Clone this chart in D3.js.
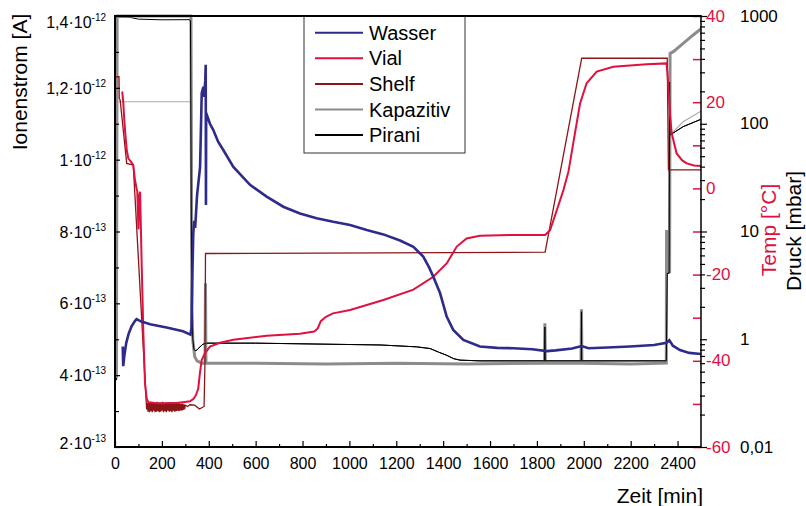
<!DOCTYPE html>
<html><head><meta charset="utf-8">
<script src="https://cdn.jsdelivr.net/npm/d3@7"></script>
<style>body{margin:0;background:#fff}svg{display:block;font-family:"Liberation Sans",Arial,Helvetica,sans-serif}</style>
</head><body><svg id="c" width="806" height="506"></svg>
<script>
// ---------- data ----------
const timeTicks = [0,200,400,600,800,1000,1200,1400,1600,1800,2000,2200,2400];
const timeMinorTicks = [100,300,500,700,900,1100,1300,1500,1700,1900,2100,2300];
// ion current in units of 1e-13 A
const ionTicks = [2,4,6,8,10,12,14];
const ionMinorTicks = [3,5,7,9,11,13];
const tempTicks = [40,30,20,10,0,-10,-20,-30,-40,-50,-60];
const tempLabelTicks = [40,20,0,-20,-40,-60];
const pressureTickValues = [1000,100,10,1,0.1];
const pressureTickLabels = ["1000","100","10","1","0,01"];
const seriesNames = ["Wasser","Vial","Shelf","Kapazitiv","Pirani"];
const seriesColors = ["#2e2b8c","#e0103f","#8c1616","#8c8c8c","#000000"];

// Wasser: [min, ion current 1e-13 A]
const wasser = [[33,4.8],[35,4.25],[40,4.55],[48,4.9],[58,5.15],[70,5.35],[84,5.5],[92,5.56],[110,5.5],[150,5.42],[220,5.33],[290,5.22],[322,5.13],[326,5.3],[330,6.8],[334,7.95],[338,8.3],[342,8.1],[350,9.0],[363,9.8],[370,11.85],[377,12.03],[380,11.75],[385,12.2],[387,12.64],[388,8.74],[389,11.3],[405,11.0],[419,10.83],[440,10.5],[462,10.27],[505,9.8],[576,9.3],[647,8.97],[718,8.69],[789,8.5],[860,8.37],[931,8.27],[1003,8.18],[1074,8.04],[1145,7.92],[1216,7.75],[1273,7.57],[1315,7.3],[1340,7.0],[1358,6.74],[1387,6.28],[1415,5.63],[1443,5.26],[1486,4.98],[1557,4.8],[1630,4.76],[1699,4.75],[1780,4.72],[1842,4.67],[1880,4.69],[1950,4.74],[1991,4.81],[2020,4.75],[2100,4.77],[2197,4.8],[2300,4.84],[2353,4.9],[2365,4.97],[2380,4.82],[2410,4.7],[2450,4.62],[2500,4.59]];
// Vial temperature [min, °C]
const vial = [[29,22.4],[31,22.3],[35,20.2],[40,15.5],[45,12],[50,8.9],[57,6.9],[68,6.2],[78,5.4],[85,2],[92,0],[95,-0.6],[100,-9.5],[104,-1.5],[107,-0.8],[110,-8],[114,-18.2],[121,-33.6],[128,-45.2],[135,-48.7],[142,-49.6],[170,-49.8],[200,-49.9],[230,-49.8],[260,-49.8],[290,-49.6],[320,-49.4],[335,-48.8],[345,-48],[355,-46.5],[362,-43],[370,-39.8],[384,-38.2],[405,-36.7],[448,-35.8],[505,-35.1],[647,-34.2],[789,-33.7],[850,-33.2],[865,-32.5],[878,-30.8],[900,-29.8],[930,-29],[1003,-28.2],[1145,-25.9],[1273,-23.5],[1358,-20.5],[1415,-17.4],[1458,-13.5],[1500,-11.6],[1557,-11.0],[1699,-10.8],[1835,-10.8],[1856,-9.7],[1885,-5],[1913,-0.4],[1935,4],[1955,10.5],[1984,19.7],[2012,24.4],[2055,27.1],[2126,28.2],[2268,28.8],[2353,29.0],[2358,26],[2361,23.6],[2368,17],[2375,12.8],[2396,8.1],[2420,6.5],[2439,5.8],[2470,5.3],[2500,5.2]];
// Shelf temperature [min, °C]
const shelf = [[0,25.9],[17,25.9],[18,21],[22,20.5],[50,5.8],[78,5.4],[135,-51.3],[138,-49.8],[141,-51.8],[144,-49.6],[147,-51.9],[150,-49.7],[153,-51.7],[156,-49.5],[159,-51.9],[162,-49.8],[165,-51.6],[168,-49.6],[171,-51.9],[174,-49.7],[177,-51.8],[180,-49.5],[183,-51.7],[186,-49.8],[189,-51.9],[192,-49.6],[195,-51.8],[198,-49.7],[201,-51.6],[204,-49.5],[207,-51.9],[210,-49.8],[213,-51.7],[216,-49.6],[219,-51.9],[222,-49.7],[225,-51.6],[228,-49.8],[231,-51.8],[234,-49.6],[237,-51.7],[240,-49.7],[243,-51.9],[246,-49.8],[249,-51.6],[252,-49.6],[255,-51.8],[258,-49.9],[261,-51.7],[264,-49.7],[267,-51.6],[270,-49.8],[273,-51.7],[276,-49.9],[279,-51.5],[282,-50.0],[285,-51.6],[288,-49.9],[291,-51.4],[294,-50.1],[297,-51.3],[300,-50.3],[310,-50.6],[320,-50.2],[340,-50.3],[360,-51.2],[380,-50.6],[384,-40],[386,-15.1],[1835,-14.8],[1991,30.2],[2356,30.2],[2361,4.3],[2500,4.3]];
// Kapazitiv pressure [min, mbar]
const kapazitiv = [[0,1000],[3,0.45],[6,0.45],[9,1000],[324,1000],[328,2],[332,0.98],[340,0.69],[350,0.63],[370,0.6],[384,0.6],[386,3.3],[388,0.6],[600,0.6],[900,0.59],[1200,0.6],[1500,0.59],[1832,0.6],[1834,1.41],[1836,0.6],[1988,0.6],[1990,1.9],[1992,0.6],[2200,0.59],[2352,0.6],[2353,10],[2365,10],[2366,4.1],[2368,450],[2382,467],[2424,558],[2467,667],[2503,769]];
// thin grey second pressure trace [min, mbar]
const kapazitivThinStart = [[14,160],[320,160]];
const kapazitivThinEnd = [[2368,78.7],[2424,104.5],[2503,132]];
// Pirani pressure [min, mbar]
const pirani = [[0,1000],[4,0.42],[7,0.42],[10,980],[60,975],[100,935],[200,922],[318,925],[322,900],[327,2.7],[332,1.0],[337,0.8],[345,0.78],[355,0.82],[375,0.9],[391,0.92],[600,0.92],[900,0.9],[1131,0.885],[1287,0.85],[1344,0.82],[1380,0.76],[1415,0.71],[1445,0.66],[1472,0.64],[1557,0.63],[1833,0.63],[1834,1.3],[1835,0.63],[1989,0.63],[1990,1.8],[1991,0.63],[2352,0.63],[2356,4.1],[2364,4.1],[2366,244],[2368,78.7],[2424,94],[2503,110.7]];

// ---------- chart ----------
const svg = d3.select("#c");
const L = 115, R = 701, T = 16, B = 447;
const x = d3.scaleLinear([0,2500],[L,R]);
const yI = d3.scaleLinear([2,14],[B,T]);
const yT = d3.scaleLinear([-60,40],[B,T]);
const yP = d3.scaleLog([0.1,1000],[B,T]);

svg.append("clipPath").attr("id","clip").append("rect")
  .attr("x",L).attr("y",T-2).attr("width",R-L).attr("height",B-T+2);
const g = svg.append("g").attr("clip-path","url(#clip)");
const mk = ys => d3.line().x(d=>x(d[0])).y(d=>ys(d[1]));

g.append("path").datum(kapazitivThinStart).attr("d",mk(yP)).attr("fill","none").attr("stroke","#aaaaaa").attr("stroke-width",1.2);
g.append("path").datum(kapazitivThinEnd).attr("d",mk(yP)).attr("fill","none").attr("stroke","#aaaaaa").attr("stroke-width",1.2);
g.append("path").datum(pirani).attr("d",mk(yP)).attr("fill","none").attr("stroke",seriesColors[4]).attr("stroke-width",1);
g.append("path").datum(kapazitiv).attr("d",mk(yP)).attr("fill","none").attr("stroke",seriesColors[3]).attr("stroke-width",3);
g.append("path").datum(pirani.filter(d=>d[0]>300)).attr("d",mk(yP)).attr("fill","none").attr("stroke",seriesColors[4]).attr("stroke-width",1);
g.append("path").datum(shelf).attr("d",mk(yT)).attr("fill","none").attr("stroke",seriesColors[2]).attr("stroke-width",1.3);
g.append("path").datum(vial).attr("d",mk(yT)).attr("fill","none").attr("stroke",seriesColors[1]).attr("stroke-width",2);
g.append("path").datum(wasser).attr("d",mk(yI)).attr("fill","none").attr("stroke",seriesColors[0]).attr("stroke-width",2.6);

// axes
const axStyle = sel => { sel.select(".domain").remove(); sel.selectAll("line").attr("stroke","#000").attr("stroke-width",1.2); };
// bottom
const bx = svg.append("g").attr("transform",`translate(0,${B})`)
  .call(d3.axisBottom(x).tickValues(timeTicks).tickSize(-6).tickPadding(11).tickFormat(d3.format("d")));
axStyle(bx);
bx.selectAll("text").attr("font-size",16).attr("fill","#000").attr("font-family",null);
const bxm = svg.append("g").attr("transform",`translate(0,${B})`)
  .call(d3.axisBottom(x).tickValues(timeMinorTicks).tickSize(-3).tickFormat(""));
axStyle(bxm);
// left
const ly = svg.append("g").attr("transform",`translate(${L},0)`)
  .call(d3.axisLeft(yI).tickValues(ionTicks).tickSize(-5).tickFormat(""));
axStyle(ly);
const lym = svg.append("g").attr("transform",`translate(${L},0)`)
  .call(d3.axisLeft(yI).tickValues(ionMinorTicks).tickSize(-4).tickFormat(""));
axStyle(lym);
// left labels with exponent
ionTicks.forEach(v => {
  const val = v*1e-13;
  const ex = Math.floor(Math.log10(val)+1e-9);
  const m = Math.round(val/Math.pow(10,ex)*10)/10;
  const ms = String(m).replace(".",",");
  const yy = Math.min(Math.max(yI(v),22),443);
  const t = svg.append("text").attr("x",106).attr("y",yy).attr("text-anchor","end")
    .attr("dominant-baseline","central").attr("font-size",16).attr("fill","#000");
  t.append("tspan").text(ms+"·10");
  t.append("tspan").attr("font-size",10).attr("dy",-5).text(String(ex));
});
// right temp axis
const ty = svg.append("g").attr("transform",`translate(${R},0)`)
  .call(d3.axisLeft(yT).tickValues(tempTicks).tickSize(8).tickFormat(""));
ty.select(".domain").remove();
ty.selectAll("line").attr("stroke","#e0103f").attr("stroke-width",1.5);
svg.selectAll(".tl").data(tempLabelTicks).enter().append("text")
  .attr("x",706).attr("y",d=>yT(d)).attr("dominant-baseline","central")
  .attr("font-size",17).attr("fill","#e0103f").text(d=>String(d));
// right pressure axis (log)
const pMinor = [];
[0.1,1,10,100].forEach(dec => { for (let k=2;k<=9;k++) pMinor.push(k*dec); });
const py = svg.append("g").attr("transform",`translate(${R-1},0)`)
  .call(d3.axisRight(yP).tickValues(pMinor).tickSize(5).tickFormat(""));
axStyle(py);
const pyM = svg.append("g").attr("transform",`translate(${R-1},0)`)
  .call(d3.axisRight(yP).tickValues(pressureTickValues).tickSize(7).tickFormat(""));
axStyle(pyM);
svg.selectAll(".pl").data(pressureTickValues).enter().append("text")
  .attr("x",740).attr("y",d=>yP(d)).attr("dominant-baseline","central")
  .attr("font-size",17).attr("fill","#000").text((d,i)=>pressureTickLabels[i]);

// frame lines
svg.append("line").attr("x1",L).attr("x2",L).attr("y1",T-1).attr("y2",B+1).attr("stroke","#000").attr("stroke-width",2);
svg.append("line").attr("x1",L-1).attr("x2",R).attr("y1",B).attr("y2",B).attr("stroke","#000").attr("stroke-width",2);
svg.append("line").attr("x1",L-1).attr("x2",R).attr("y1",T).attr("y2",T).attr("stroke","#000").attr("stroke-width",2);
svg.append("line").attr("x1",R).attr("x2",R).attr("y1",T-1).attr("y2",B+1).attr("stroke","#000").attr("stroke-width",1.5);

// titles
svg.append("text").attr("transform","translate(27,82) rotate(-90)").attr("text-anchor","middle")
  .attr("font-size",21).attr("fill","#000").text("Ionenstrom [A]");
svg.append("text").attr("transform","translate(776,230) rotate(-90)").attr("text-anchor","middle")
  .attr("font-size",21).attr("fill","#e0103f").text("Temp [°C]");
svg.append("text").attr("transform","translate(801,231) rotate(-90)").attr("text-anchor","middle")
  .attr("font-size",21).attr("fill","#000").text("Druck [mbar]");
svg.append("text").attr("x",703).attr("y",503).attr("text-anchor","end")
  .attr("font-size",21).attr("fill","#000").text("Zeit [min]");

// legend
const lg = svg.append("g");
lg.append("rect").attr("x",304).attr("y",T).attr("width",161).attr("height",137)
  .attr("fill","#fff").attr("stroke","#333").attr("stroke-width",1);
lg.append("line").attr("x1",303).attr("x2",466).attr("y1",T).attr("y2",T).attr("stroke","#000").attr("stroke-width",2);
seriesNames.forEach((n,i) => {
  const yy = 32.7 + i*25.6;
  lg.append("line").attr("x1",315).attr("x2",363).attr("y1",yy).attr("y2",yy)
    .attr("stroke",seriesColors[i]).attr("stroke-width",2);
  lg.append("text").attr("x",369).attr("y",yy).attr("dominant-baseline","central")
    .attr("font-size",20).attr("fill","#000").text(n);
});
</script></body></html>
